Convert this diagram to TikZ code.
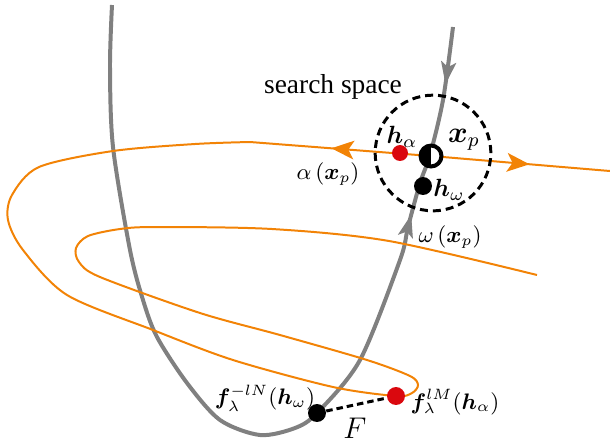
\documentclass[tikz,border=0pt]{standalone}
\usepackage{amsmath,bm}
\usepackage{fontspec}
\newfontfamily\labelfont{Liberation Serif}
\usetikzlibrary{arrows.meta,decorations.markings,backgrounds}
\definecolor{trajorange}{RGB}{242,131,6}
\definecolor{manigrey}{RGB}{128,128,128}
\definecolor{dotred}{RGB}{218,8,14}

\begin{document}
\begin{tikzpicture}[
  x=0.0141cm,y=-0.0141cm,
  mani/.style={manigrey,line width=1.6pt},
  traj/.style={trajorange,line width=0.8pt},
  ring/.style={circle,draw,line width=1.2pt,dash pattern=on 3.2pt off 2pt,
               inner sep=0pt,minimum size=1.63cm},
  bridge/.style={line width=1.2pt,dash pattern=on 2.6pt off 1.6pt},
  dot/.style={circle,fill=black,inner sep=0pt,minimum size=7.2pt},
  reddot/.style={dot,fill=dotred},
  halfdot/.style={circle,draw=black,line width=1.6pt,fill=white,inner sep=0pt,
                  minimum size=8.4pt,
                  path picture={\fill[black] (path picture bounding box.north west)
                                rectangle (path picture bounding box.south);}},
  lbl/.style={inner sep=1pt},
  midtip/.style={postaction={decorate},decoration={markings,
                 mark=at position #1 with {\arrow{Stealth[length=9pt,width=7.5pt,inset=2.2pt]}}}}
]
\useasboundingbox (0,0) rectangle (610,443);

\node[ring] (space) at (433,153) {};
\node[lbl,font=\labelfont\fontsize{11}{13}\selectfont] (spacelbl) at (333,87) {search space};

\node[halfdot] (xp) at (431,156) {};
\node[reddot,minimum size=6.4pt] (ha) at (400,153) {};
\node[dot] (hw) at (423,186) {};
\node[dot] (fN) at (317,413) {};
\node[reddot] (fM) at (396,396) {};

\node[lbl] at (402,137) {$\bm{h}_{\alpha}$};
\node[lbl,font=\large] at (464,140) {$\bm{x}_p$};
\node[lbl] at (449,190) {$\bm{h}_{\omega}$};
\node[lbl,font=\small] at (328,174) {$\alpha\,(\bm{x}_p)$};
\node[lbl,font=\small] at (450,237) {$\omega\,(\bm{x}_p)$};
\node[lbl,font=\small] at (265,398) {$\bm{f}_{\lambda}^{-lN}(\bm{h}_{\omega})$};
\node[lbl,font=\small] at (455,402) {$\bm{f}_{\lambda}^{lM}(\bm{h}_{\alpha})$};
\node[lbl,font=\large] at (355,428) {$F$};

\begin{scope}[on background layer]
  % stable manifold
  \draw[mani,postaction={decorate},decoration={markings,
        mark=at position 0.80 with {\arrow{Stealth[length=9pt,width=6pt,inset=2pt]}},
        mark=at position 0.94 with {\arrowreversed{Stealth[length=9pt,width=6pt,inset=2pt]}}}]
    plot[smooth] coordinates {(112,5) (110,67) (113,147) (130,250) (143,300) (157,337)
      (187,383) (220,420) (260,435) (295,428) (317,413) (360,360) (400,260) (408,227)
      (420,183) (430,155) (443,100) (453,27)};
  % unstable manifold
  \draw[traj,midtip=0.55] (xp.center) -- (610,171);
  \draw[traj,midtip=0.55] (xp.center) -- (250,142);
  \draw[traj] plot[smooth] coordinates {(250,142) (195,144) (113,151) (39,167) (12,195)
      (8,220) (23,250) (67,295) (153,330) (233,360) (333,387) (396,396) (412,393)
      (418,385) (410,376) (367,360) (280,335) (200,313) (100,277) (79,262) (76,248)
      (88,236) (120,229) (156,227) (272,229) (389,241) (537,275)};
  \draw[bridge] (fN) -- (fM);
\end{scope}
\end{tikzpicture}
\end{document}
